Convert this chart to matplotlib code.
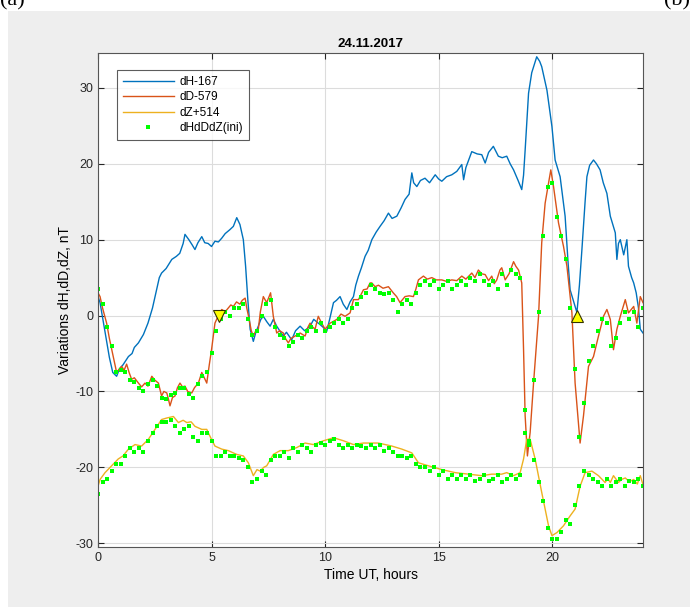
import numpy as np
import matplotlib.pyplot as plt
from matplotlib.patches import Rectangle

# dH-167 (blue), time in hours UT
t_dH = [0.0, 0.09, 0.3, 0.5, 0.65, 0.82, 0.95, 1.1, 1.34, 1.5, 1.6, 1.78, 2.0, 2.2, 2.4,
        2.58, 2.7, 2.8, 3.0, 3.25, 3.45, 3.6, 3.75, 3.83, 4.0, 4.15, 4.27, 4.4, 4.57, 4.7,
        4.85, 5.0, 5.15, 5.3, 5.45, 5.6, 5.8, 5.96, 6.11, 6.25, 6.4, 6.5, 6.6, 6.7, 6.84,
        6.95, 7.06, 7.17, 7.28, 7.43, 7.58, 7.72, 7.87, 8.0, 8.16, 8.3, 8.53, 8.7, 8.9, 9.1,
        9.34, 9.5, 9.7, 9.9, 10.07, 10.2, 10.37, 10.5, 10.66, 10.8, 10.96, 11.1, 11.25, 11.35,
        11.47, 11.6, 11.76, 11.9, 12.06, 12.25, 12.42, 12.6, 12.79, 12.95, 13.16, 13.35, 13.52,
        13.7, 13.82, 13.9, 14.04, 14.2, 14.4, 14.6, 14.85, 15.0, 15.14, 15.35, 15.58, 15.8,
        16.02, 16.1, 16.2, 16.46, 16.7, 16.9, 17.05, 17.2, 17.41, 17.63, 17.8, 18.0, 18.15,
        18.3, 18.5, 18.66, 18.74, 18.81, 18.96, 19.1, 19.32, 19.45, 19.54, 19.77, 19.99, 20.13,
        20.35, 20.57, 20.7, 20.79, 20.95, 21.09, 21.2, 21.31, 21.45, 21.53, 21.65, 21.82, 21.95,
        22.11, 22.25, 22.41, 22.56, 22.78, 22.85, 22.92, 23.0, 23.15, 23.29, 23.36, 23.5, 23.59,
        23.7, 23.8, 23.88, 24.0]
dH = [2.5, 1.7, -2.0, -5.5, -7.5, -8.0, -7.0, -6.5, -5.4, -5.0, -4.2, -3.6, -2.5, -1.0, 1.0,
      3.4, 5.0, 5.6, 6.2, 7.4, 7.8, 8.2, 9.5, 10.7, 10.0, 9.3, 8.7, 9.6, 10.4, 9.6,
      9.5, 9.1, 9.8, 9.7, 10.2, 10.8, 11.3, 11.75, 12.9, 12.0, 10.0, 6.5, 2.0, -1.8, -3.4,
      -2.2, -1.4, -0.5, -0.1, -0.8, -1.4, -0.5, -1.4, -2.0, -2.7, -2.2, -3.2, -2.0, -1.4, -2.0,
      -1.4, -0.5, -1.0, -1.5, -2.1, -0.5, 1.7, 2.0, 2.5, 1.5, 0.8, 1.8, 2.5, 4.0,
      5.2, 6.3, 7.8, 8.6, 10.0, 11.0, 11.75, 12.5, 13.5, 12.8, 13.1, 14.2, 15.3,
      16.0, 18.8, 17.5, 17.0, 17.8, 18.1, 17.5, 18.55, 18.0, 17.7, 18.3, 18.55, 19.0,
      19.9, 17.9, 19.5, 21.6, 21.3, 21.2, 20.1, 21.5, 22.3, 21.0, 20.8, 21.0, 20.0,
      19.2, 17.8, 16.6, 18.5, 21.8, 29.3, 32.0, 34.1, 33.5, 32.8, 29.7, 24.9, 20.5,
      18.3, 13.1, 7.0, 3.4, 1.8, 0.4, 4.0, 8.7, 15.0, 18.3, 19.8, 20.5, 20.0,
      19.2, 17.5, 16.1, 13.1, 10.9, 7.4, 9.5, 10.0, 8.0, 10.0, 6.5, 5.0, 4.3,
      3.0, 1.0, -1.8, -2.3]

# dD-579 (red)
t_dD = [0.0, 0.09, 0.2, 0.38, 0.5, 0.67, 0.82, 0.95, 1.04, 1.15, 1.26, 1.37, 1.48, 1.6, 1.78,
        1.92, 2.07, 2.2, 2.37, 2.5, 2.66, 2.8, 2.9, 3.03, 3.1, 3.17, 3.28, 3.39, 3.5, 3.61,
        3.72, 3.83, 3.95, 4.13, 4.25, 4.42, 4.57, 4.68, 4.79, 4.9, 5.0, 5.15, 5.3, 5.45, 5.6,
        5.74, 5.85, 5.96, 6.1, 6.25, 6.35, 6.48, 6.55, 6.63, 6.75, 6.84, 6.95, 7.06, 7.15, 7.28,
        7.43, 7.6, 7.72, 7.87, 8.0, 8.16, 8.25, 8.38, 8.5, 8.68, 8.9, 9.12, 9.25, 9.34, 9.45,
        9.56, 9.7, 9.85, 10.0, 10.22, 10.35, 10.52, 10.7, 10.88, 11.1, 11.25, 11.47, 11.69,
        11.85, 11.98, 12.06, 12.2, 12.35, 12.55, 12.79, 13.0, 13.15, 13.3, 13.52, 13.7, 13.89,
        14.0, 14.11, 14.33, 14.5, 14.7, 14.9, 15.14, 15.35, 15.58, 15.8, 16.02, 16.2, 16.46,
        16.6, 16.75, 16.9, 17.05, 17.2, 17.34, 17.45, 17.56, 17.7, 17.78, 17.93, 18.1, 18.3,
        18.4, 18.52, 18.66, 18.74, 18.81, 18.91, 19.03, 19.18, 19.4, 19.54, 19.69, 19.94, 20.06,
        20.28, 20.5, 20.65, 20.87, 21.01, 21.23, 21.38, 21.6, 21.82, 22.04, 22.26, 22.41, 22.56,
        22.7, 22.85, 23.0, 23.22, 23.36, 23.59, 23.73, 23.88, 24.0]
dD = [3.0, 2.5, 1.0, -1.0, -3.0, -5.4, -7.5, -7.0, -6.7, -7.2, -6.4, -7.5, -8.4, -8.2, -8.9,
      -9.4, -8.9, -9.3, -8.0, -8.5, -8.9, -10.6, -10.0, -10.2, -11.0, -11.9, -10.8, -10.6, -9.5, -8.9,
      -9.4, -9.3, -10.0, -10.2, -9.5, -8.9, -7.5, -8.2, -8.9, -6.5, -4.5, -1.0, 0.0, 0.8, 0.5,
      1.0, 1.4, 1.2, 1.8, 1.5, 2.0, 2.3, 1.0, -0.1, -2.0, -2.7, -2.0, -1.8, 0.5, 2.5,
      1.7, 3.0, -0.1, -2.3, -2.0, -2.3, -3.0, -3.6, -3.0, -2.7, -2.3, -2.7, -1.5, -1.0, -1.5,
      -1.8, -0.1, -1.0, -1.8, -1.0, -0.8, -0.5, 0.2, -0.1, 0.35, 2.1, 2.1, 3.4,
      3.5, 4.3, 4.3, 3.8, 4.0, 3.6, 3.8, 3.0, 2.5, 1.7, 2.5, 2.6, 2.5,
      3.5, 4.7, 5.2, 4.8, 5.0, 4.7, 4.7, 4.5, 4.7, 4.6, 5.2, 4.8, 5.6,
      5.0, 6.0, 5.5, 5.4, 4.6, 5.2, 4.2, 4.7, 6.0, 6.3, 4.7, 5.5, 7.1,
      6.5, 6.0, 4.3, -4.5, -13.2, -18.5, -15.4, -8.9, -0.1, 9.6, 14.8, 19.2, 17.0,
      12.2, 9.1, 6.5, 0.35, -8.9, -16.8, -13.2, -6.7, -5.4, -2.7, -0.1, 0.8, -0.5,
      -4.5, -1.8, -0.1, 2.1, 0.35, 1.2, -1.0, 2.5, 1.7]

# dZ+514 (yellow)
t_dZ = [0.0, 0.09, 0.31, 0.6, 0.89, 1.1, 1.34, 1.63, 1.92, 2.22, 2.51, 2.8, 3.03, 3.32, 3.54,
        3.75, 3.91, 4.1, 4.27, 4.57, 4.79, 4.93, 5.15, 5.45, 5.74, 5.96, 6.11, 6.4, 6.62, 6.84,
        7.0, 7.14, 7.3, 7.43, 7.72, 8.02, 8.38, 8.75, 9.12, 9.48, 9.93, 10.37, 10.81, 11.25,
        11.69, 11.98, 12.35, 12.94, 13.38, 13.82, 14.11, 14.55, 15.14, 15.73, 16.31, 16.9,
        17.34, 17.78, 18.0, 18.3, 18.59, 18.74, 18.88, 19.03, 19.25, 19.54, 19.84, 19.99, 20.21,
        20.5, 20.79, 21.01, 21.23, 21.45, 21.75, 22.04, 22.33, 22.45, 22.56, 22.7, 22.92, 23.05,
        23.22, 23.4, 23.59, 23.75, 23.88, 24.0]
dZ = [-22.5, -21.6, -20.7, -19.8, -18.9, -18.5, -17.6, -17.0, -17.2, -16.3, -15.0, -13.7, -13.5, -13.3, -14.1,
      -13.8, -14.1, -14.0, -14.6, -15.0, -15.0, -15.9, -17.2, -17.6, -17.8, -18.1, -18.3, -18.5, -19.4, -21.1,
      -20.3, -20.5, -20.0, -19.8, -18.3, -17.8, -17.8, -17.4, -16.8, -17.0, -16.5, -16.1, -16.5, -17.0,
      -16.8, -16.8, -16.8, -17.2, -17.6, -18.1, -19.4, -19.8, -20.3, -20.7, -20.9, -21.1,
      -20.9, -20.9, -20.7, -21.1, -20.7, -18.9, -16.3, -16.3, -18.9, -23.3, -27.7, -29.0, -28.6,
      -27.7, -26.4, -25.5, -22.5, -20.7, -20.5, -21.1, -22.0, -21.5, -22.0, -21.1, -22.0, -21.6,
      -21.4, -21.9, -21.6, -22.2, -21.1, -22.3]

# dHdDdZ(ini): initial values, sampled every 0.2 h
dD_ini = [3.5, 1.5, -1.5, -4.0, -7.5, -7.2, -7.5, -8.5, -8.8, -9.5, -10.0, -9.0, -8.5, -9.3, -10.8,
          -11.0, -10.5, -10.2, -9.5, -9.5, -10.3, -10.8, -9.0, -8.0, -7.5, -5.0, -2.0, -0.5, 0.5, 0.0,
          1.0, 1.0, 1.5, -0.5, -2.5, -2.0, 0.0, 1.5, 2.0, -1.5, -2.5, -3.0, -4.0, -3.5, -2.5,
          -3.0, -2.0, -1.5, -2.0, -1.0, -2.0, -1.5, -1.0, -0.5, -1.0, -0.5, 1.0, 1.5, 2.5, 3.0,
          4.0, 3.5, 3.0, 2.8, 3.0, 2.0, 0.5, 1.5, 2.0, 1.5, 3.0, 4.0, 4.5, 4.0, 4.5,
          3.5, 4.0, 4.5, 3.5, 4.0, 4.5, 4.0, 5.0, 4.5, 5.5, 4.5, 4.0, 4.5, 3.5, 5.5,
          4.0, 6.0, 5.5, 5.0, -12.5, -17.0, -8.5, 0.5, 10.5, 17.0, 17.5, 13.0, 10.5, 7.5, 1.0,
          -7.0, -16.0, -11.5, -6.0, -4.0, -2.0, -0.5, -1.0, -4.0, -3.0, -1.0, 0.5, -0.5, 0.5, -1.5,
          1.0]
dZ_ini = [-23.5, -22.0, -21.5, -20.5, -19.5, -19.5, -18.5, -17.5, -18.0, -17.5, -18.0, -16.5, -15.5, -14.5, -14.0,
          -14.0, -13.8, -14.5, -15.5, -15.0, -14.5, -16.0, -16.5, -15.5, -15.5, -16.5, -18.5, -18.5, -18.0, -18.5,
          -18.5, -18.8, -19.0, -20.0, -22.0, -21.5, -20.5, -21.0, -19.0, -18.5, -18.5, -18.0, -18.8, -17.5, -18.0,
          -17.0, -17.5, -18.0, -17.0, -16.8, -17.0, -16.5, -16.3, -17.0, -17.5, -17.0, -17.5, -17.0, -17.2, -17.5,
          -17.0, -17.5, -17.0, -17.8, -17.5, -18.0, -18.5, -18.5, -18.8, -18.5, -19.5, -20.0, -20.0, -20.5, -20.0,
          -21.0, -20.5, -21.5, -21.0, -21.5, -21.0, -21.5, -21.0, -21.8, -21.5, -21.0, -21.8, -21.5, -21.0, -22.0,
          -21.5, -21.0, -21.5, -21.0, -15.5, -16.5, -19.0, -22.0, -24.5, -28.0, -29.5, -29.5, -28.5, -27.0, -27.5,
          -25.0, -22.5, -20.5, -21.0, -21.5, -22.0, -22.5, -21.5, -22.5, -22.0, -21.5, -22.5, -21.8, -22.0, -21.5,
          -22.5]
t_ini = np.arange(len(dD_ini)) * 0.2

# event markers
t_down, v_down = [5.35], [0.0]
t_up, v_up = [21.1], [0.0]

x_ticks = [0, 5, 10, 15, 20]
y_ticks = [-30, -20, -10, 0, 10, 20, 30]

plt.rcParams['font.family'] = ['Liberation Sans', 'DejaVu Sans']
plt.rcParams['axes.unicode_minus'] = False

fig = plt.figure(figsize=(6.98, 6.07), dpi=100)
bg = Rectangle((8 / 698, 0), 682 / 698, 1 - 11 / 607, transform=fig.transFigure,
               facecolor='#eeeeee', edgecolor='none', zorder=-10)
fig.add_artist(bg)
fig.text(0.0, 1 - 5 / 607, '(a)', family='Liberation Serif', fontsize=16, ha='left', va='baseline')
fig.text(690 / 698, 1 - 5 / 607, '(b)', family='Liberation Serif', fontsize=16, ha='right', va='baseline')

ax = fig.add_axes([98 / 698, 1 - 547 / 607, 545 / 698, 494 / 607])
ax.plot(t_dH, dH, color='#0072BD', lw=1.0, label='dH-167')
ax.plot(t_dD, dD, color='#D95319', lw=1.0, label='dD-579')
ax.plot(t_dZ, dZ, color='#EDB120', lw=1.0, label='dZ+514')
ax.plot(t_ini, dD_ini, ls='none', marker='s', ms=2.4, mew=0, color='#00ff00', label='dHdDdZ(ini)')
ax.plot(t_ini, dZ_ini, ls='none', marker='s', ms=2.4, mew=0, color='#00ff00')
ax.plot(t_down, v_down, ls='none', marker='v', ms=8, mfc='#ffff00', mec='#333300', mew=0.8)
ax.plot(t_up, v_up, ls='none', marker='^', ms=8, mfc='#ffff00', mec='#333300', mew=0.8)

ax.set_xlim(0, 24)
ax.set_ylim(-30.5, 34.6)
ax.set_xticks(x_ticks)
ax.set_yticks(y_ticks)
ax.grid(True, color='#dcdcdc', lw=0.8)
ax.set_axisbelow(True)
ax.tick_params(direction='in', top=True, right=True, labelsize=9, colors='#262626', length=4)
for s in ax.spines.values():
    s.set_color('#555555')
    s.set_linewidth(0.8)
ax.set_title('24.11.2017', fontsize=9.5, fontweight='bold', pad=4)
ax.set_xlabel('Time UT, hours', fontsize=10, labelpad=3)
ax.set_ylabel('Variations dH,dD,dZ, nT', fontsize=10, labelpad=2)

leg = ax.legend(loc='upper left', bbox_to_anchor=(0.035, 0.966), borderaxespad=0, fontsize=8.5,
                frameon=True, fancybox=False, edgecolor='#333333', handlelength=4.3,
                handletextpad=0.5, borderpad=0.5, labelspacing=0.3, markerscale=1.0)
leg.get_frame().set_linewidth(0.8)

fig.savefig('out.png', dpi=100)
